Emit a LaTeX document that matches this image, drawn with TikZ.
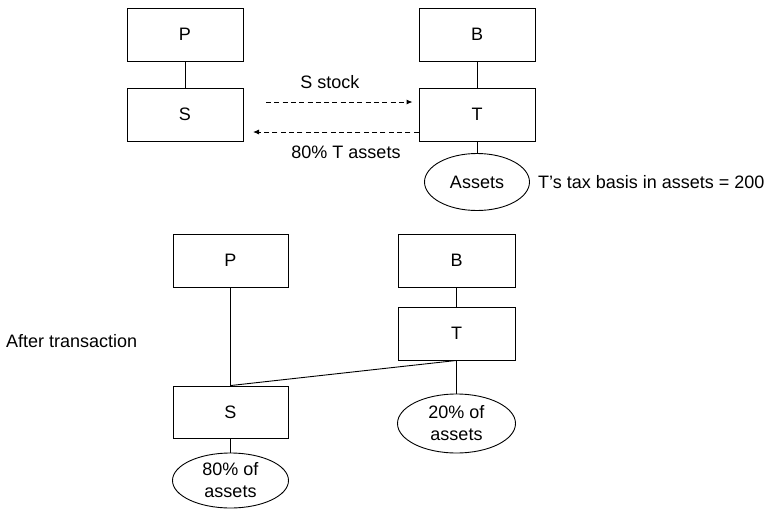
\documentclass[tikz,border=0pt]{standalone}
\usepackage{fontspec}
\setmainfont{Liberation Sans}
\usetikzlibrary{shapes.geometric,arrows.meta}
\begin{document}
\begin{tikzpicture}[x=1pt,y=-1pt,
  every node/.style={font=\fontsize{18}{22}\selectfont},
  entity/.style={draw,line width=0.9pt,rectangle,inner sep=0pt,minimum width=116pt,minimum height=53pt},
  holding/.style={draw,line width=0.9pt,ellipse,inner sep=0pt,align=center},
  link/.style={line width=0.9pt},
  transfer/.style={line width=0.9pt,dash pattern=on 5pt off 3.3pt,-{Latex[length=6pt,width=5pt]}},
  lbl/.style={inner sep=0pt}]
\useasboundingbox (0,0) rectangle (772,509);

% --- before the transaction ---
\node[entity] (P1) at (185,34.5) {P};
\node[entity] (S1) at (185,114.5) {S};
\node[entity] (B1) at (477,34.5) {B};
\node[entity] (T1) at (477,114.5) {T};
\node[holding,minimum width=105pt,minimum height=57pt] (A1) at (477,182) {Assets};
\node[lbl,anchor=west] (basis) at (538,182) {T’s tax basis in assets = 200};

\draw[link] (P1) -- (S1);
\draw[link] (B1) -- (T1);
\draw[link] (T1) -- (A1);

\coordinate (stockstart) at (266,102);
\coordinate (assetend) at (253,132);
\draw[transfer,shorten >=6pt] (stockstart) -- (stockstart -| T1.west);
\draw[transfer] (assetend -| T1.west) -- (assetend);
\node[lbl] (stocklbl) at (330,82) {S stock};
\node[lbl] (assetlbl) at (346,152) {80\% T assets};

% --- after the transaction ---
\node[lbl,anchor=west] (after) at (6,341) {After transaction};
\node[entity,minimum width=115pt] (P2) at (230.5,260.5) {P};
\node[entity,minimum width=117pt] (B2) at (456.5,260.5) {B};
\node[entity,minimum width=117pt] (T2) at (456.5,333.5) {T};
\node[entity,minimum width=115pt,minimum height=52pt] (S2) at (230.5,412) {S};
\node[holding,minimum width=118pt,minimum height=59pt] (A2) at (456.5,423.5) {20\% of\\assets};
\node[holding,minimum width=116pt,minimum height=55pt] (A3) at (230.5,480.5) {80\% of\\assets};

\draw[link] (P2) -- (S2);
\draw[link] (B2) -- (T2);
\draw[link] (T2.south) -- (S2.north);
\draw[link] (T2) -- (A2);
\draw[link] (S2) -- (A3);
\end{tikzpicture}
\end{document}
